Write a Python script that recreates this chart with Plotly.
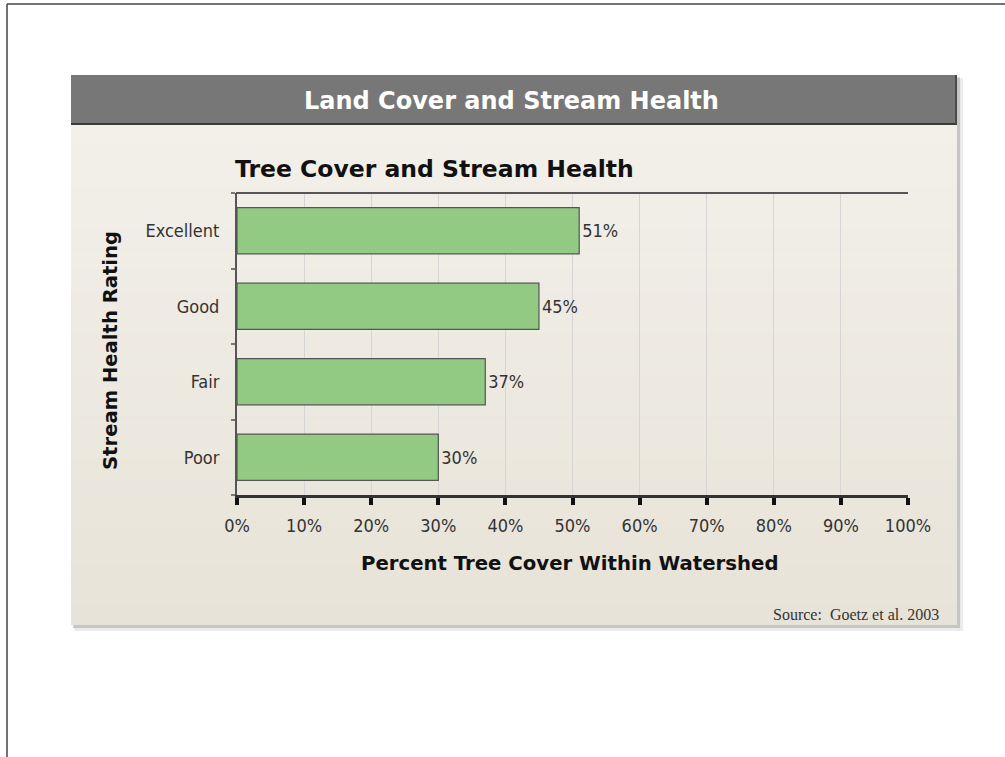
import plotly.graph_objects as go

# ---- data ----
categories = ["Poor", "Fair", "Good", "Excellent"]
tree_cover = [30, 37, 45, 51]
x_tick_values = [0, 10, 20, 30, 40, 50, 60, 70, 80, 90, 100]
x_tick_labels = ["0%", "10%", "20%", "30%", "40%", "50%", "60%", "70%", "80%", "90%", "100%"]

W, H = 1005, 757
BOLD = "DejaVu Sans, Liberation Sans, Arial, sans-serif"
NARROW = "DejaVu Sans Condensed, Liberation Sans, sans-serif"


def px(x):
    return x / W


def py(y):
    return 1 - y / H


fig = go.Figure()
fig.add_trace(go.Bar(
    y=categories,
    x=tree_cover,
    orientation="h",
    marker=dict(color="#92c983", line=dict(color="#555555", width=1.2)),
    text=[f"{v}%" for v in tree_cover],
    textposition="outside",
    textfont=dict(family=NARROW, size=18, color="#333333"),
    cliponaxis=False,
    hoverinfo="skip",
))

shapes = []
# page frame
shapes.append(dict(type="line", xref="paper", yref="paper", x0=px(7), x1=px(1005), y0=py(4), y1=py(4),
                   line=dict(color="#444444", width=1.5), layer="below"))
shapes.append(dict(type="line", xref="paper", yref="paper", x0=px(7), x1=px(7), y0=py(4), y1=py(757),
                   line=dict(color="#444444", width=1.5), layer="below"))
# panel shadow
shapes.append(dict(type="rect", xref="paper", yref="paper", x0=px(74), x1=px(963), y0=py(78), y1=py(631),
                   fillcolor="rgba(0,0,0,0.08)", line=dict(width=0), layer="below"))
shapes.append(dict(type="rect", xref="paper", yref="paper", x0=px(73), x1=px(960), y0=py(77), y1=py(628),
                   fillcolor="rgba(0,0,0,0.16)", line=dict(width=0), layer="below"))
# panel body gradient (styling bands)
top_c = (243, 240, 234)
bot_c = (231, 227, 216)
n = 24
y_start, y_end = 124, 625
for i in range(n):
    t = i / (n - 1)
    c = tuple(round(top_c[k] + (bot_c[k] - top_c[k]) * t) for k in range(3))
    y0 = y_start + (y_end - y_start) * i / n
    y1 = y_start + (y_end - y_start) * (i + 1) / n + 0.5
    shapes.append(dict(type="rect", xref="paper", yref="paper", x0=px(71), x1=px(957),
                       y0=py(y0), y1=py(min(y1, y_end)),
                       fillcolor=f"rgb{c}", line=dict(width=0), layer="below"))
# header bar
shapes.append(dict(type="rect", xref="paper", yref="paper", x0=px(71), x1=px(957), y0=py(75), y1=py(124),
                   fillcolor="#777777", line=dict(width=0), layer="below"))
shapes.append(dict(type="line", xref="paper", yref="paper", x0=px(71), x1=px(957), y0=py(124), y1=py(124),
                   line=dict(color="#3a3a3a", width=2), layer="below"))
shapes.append(dict(type="line", xref="paper", yref="paper", x0=px(956), x1=px(956), y0=py(75), y1=py(124),
                   line=dict(color="#4a4a4a", width=2), layer="below"))
# plot top border
shapes.append(dict(type="line", xref="paper", yref="paper", x0=px(236), x1=px(908), y0=py(193), y1=py(193),
                   line=dict(color="#555555", width=2), layer="above"))
fig.update_layout(shapes=shapes)

annotations = [
    dict(text="<b>Land Cover and Stream Health</b>", x=px(512), y=py(101), xref="paper", yref="paper",
         showarrow=False, xanchor="center", yanchor="middle",
         font=dict(family=BOLD, size=24, color="#ffffff")),
    dict(text="<b>Tree Cover and Stream Health</b>", x=px(233), y=py(169), xref="paper", yref="paper",
         showarrow=False, xanchor="left", yanchor="middle",
         font=dict(family=BOLD, size=23.5, color="#111111")),
    dict(text="<b>Stream Health Rating</b>", x=px(110), y=py(351), xref="paper", yref="paper",
         showarrow=False, xanchor="center", yanchor="middle", textangle=-90,
         font=dict(family=BOLD, size=19.6, color="#111111")),
    dict(text="<b>Percent Tree Cover Within Watershed</b>", x=px(570), y=py(563), xref="paper", yref="paper",
         showarrow=False, xanchor="center", yanchor="middle",
         font=dict(family=BOLD, size=19.7, color="#111111")),
    dict(text="Source:  Goetz et al. 2003", x=px(941), y=py(614), xref="paper", yref="paper",
         showarrow=False, xanchor="right", yanchor="middle",
         font=dict(family="Liberation Serif, Times New Roman, serif", size=16, color="#333333")),
]
fig.update_layout(annotations=annotations)

fig.update_layout(
    width=W, height=H,
    margin=dict(l=0, r=0, t=0, b=0),
    paper_bgcolor="#ffffff",
    plot_bgcolor="#ffffff",
    showlegend=False,
    bargap=0.39,
    font=dict(family=NARROW, color="#333333"),
    xaxis=dict(
        domain=[px(237), px(908)],
        range=[0, 100],
        tickvals=x_tick_values,
        ticktext=x_tick_labels,
        showgrid=True, gridcolor="#d6d6d6", gridwidth=1,
        zeroline=False,
        showline=True, linecolor="#333333", linewidth=3,
        ticks="outside", ticklen=7, tickwidth=4, tickcolor="#111111",
        ticklabelstandoff=5,
        tickfont=dict(family=NARROW, size=18, color="#333333"),
        automargin=False,
        fixedrange=True,
    ),
    yaxis=dict(
        domain=[py(495), py(193)],
        categoryorder="array", categoryarray=categories,
        showgrid=False, zeroline=False,
        showline=True, linecolor="#555555", linewidth=2,
        ticks="outside", ticklen=4, tickwidth=2, tickcolor="#777777",
        tickson="boundaries",
        ticklabelstandoff=12,
        tickfont=dict(family=NARROW, size=18, color="#333333"),
        automargin=False,
        fixedrange=True,
    ),
)

fig.write_html(
    "out.html",
    config={"displayModeBar": False},
    post_script="document.body.style.margin='0';document.body.style.overflow='hidden';",
)
